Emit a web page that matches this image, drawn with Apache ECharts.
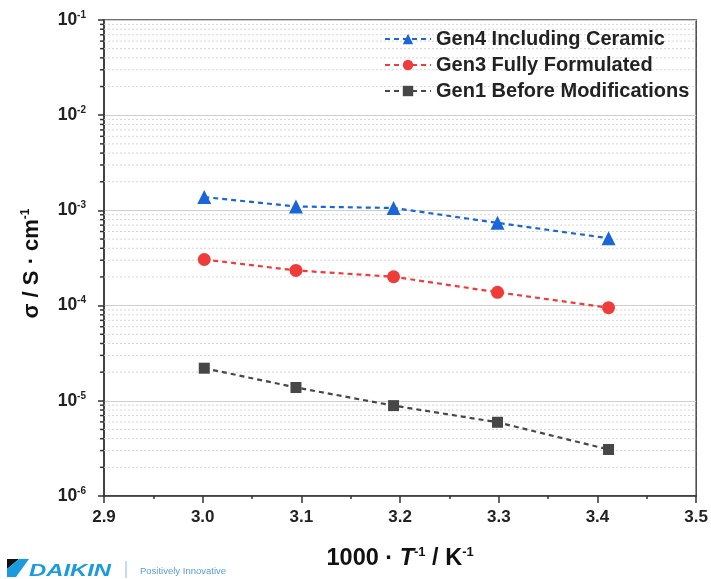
<!DOCTYPE html>
<html><head><meta charset="utf-8">
<script src="https://cdn.jsdelivr.net/npm/echarts@6/dist/echarts.min.js"></script>
<style>html,body{margin:0;padding:0;background:#fff}#c{width:711px;height:579px}</style>
</head><body><div id="c"></div>
<script>
// ---- data ----
const xValues = [3.0016, 3.0945, 3.1934, 3.2987, 3.4112];
const gen4 = [1.38e-3, 1.10e-3, 1.06e-3, 7.4e-4, 5.1e-4];
const gen3 = [3.05e-4, 2.34e-4, 2.01e-4, 1.38e-4, 9.5e-5];
const gen1 = [2.20e-5, 1.38e-5, 8.9e-6, 5.95e-6, 3.08e-6];
const seriesNames = ['Gen4 Including Ceramic', 'Gen3 Fully Formulated', 'Gen1 Before Modifications'];
const xMin = 2.9, xMax = 3.5, xStep = 0.1;
const yMin = 1e-6, yMax = 1e-1;
const minorMantissas = [2, 3, 4, 5, 6, 7, 8, 9];
const minorDecades = [-6, -5, -4, -3, -2];

const FONT = 'Liberation Sans, Arial, Helvetica, sans-serif';
const minorValues = [];
minorDecades.forEach(e => minorMantissas.forEach(m => minorValues.push([xMin, m * Math.pow(10, e)])));
const pair = arr => xValues.map((x, i) => [x, arr[i]]);

const chart = echarts.init(document.getElementById('c'), null, {renderer: 'canvas'});
chart.setOption({
  animation: false,
  backgroundColor: '#fff',
  textStyle: {fontFamily: FONT},
  grid: {left: 104, right: 14, top: 20, bottom: 83, show: true, borderColor: '#444', borderWidth: 1.5, backgroundColor: 'transparent'},
  legend: {
    orient: 'vertical', left: 379, top: 24, itemWidth: 46, itemHeight: 13, itemGap: 6,
    data: seriesNames,
    textStyle: {fontSize: 20, fontWeight: 'bold', color: '#222', fontFamily: FONT}
  },
  xAxis: {
    type: 'value', min: xMin, max: xMax, interval: xStep,
    axisLine: {show: true, lineStyle: {color: '#333', width: 1.5}},
    axisTick: {show: true, length: 7, lineStyle: {color: '#333', width: 1.5}},
    minorTick: {show: true, splitNumber: 2, length: 3, lineStyle: {color: '#333', width: 1.5}},
    splitLine: {show: false},
    axisLabel: {fontSize: 17, fontWeight: 'bold', color: '#222', margin: 13, formatter: v => v.toFixed(1)},
    name: '{t|1000 · }{i|T}{s|-1}{t| / K}{s|-1}',
    nameLocation: 'middle', nameGap: 50,
    nameTextStyle: {
      rich: {
        t: {fontSize: 23.5, fontWeight: 'bold', color: '#111', fontFamily: FONT, lineHeight: 25},
        i: {fontSize: 23.5, fontWeight: 'bold', fontStyle: 'italic', color: '#111', fontFamily: FONT, lineHeight: 25},
        s: {fontSize: 13, fontWeight: 'bold', color: '#111', fontFamily: FONT, verticalAlign: 'top', lineHeight: 25}
      }
    }
  },
  yAxis: {
    type: 'log', logBase: 10, min: yMin, max: yMax,
    axisLine: {show: true, lineStyle: {color: '#333', width: 1.5}},
    axisTick: {show: true, length: 6, lineStyle: {color: '#333', width: 1.5}},
    splitLine: {show: true, lineStyle: {color: '#cfcfcf', width: 1.2}},
    axisLabel: {
      margin: 18,
      formatter: v => '{b|10}{s|' + Math.round(Math.log10(v)) + '}',
      rich: {
        b: {fontSize: 17.5, fontWeight: 'bold', color: '#222', fontFamily: FONT, lineHeight: 20},
        s: {fontSize: 10, fontWeight: 'bold', color: '#222', fontFamily: FONT, verticalAlign: 'top', lineHeight: 20}
      }
    },
    name: '{t|σ / S · cm}{s|-1}',
    nameLocation: 'middle', nameGap: 60,
    nameTextStyle: {
      padding: [0, 11, 0, 0],
      rich: {
        t: {fontSize: 22, fontWeight: 'bold', color: '#111', fontFamily: FONT, lineHeight: 24},
        s: {fontSize: 12, fontWeight: 'bold', color: '#111', fontFamily: FONT, verticalAlign: 'top', lineHeight: 24}
      }
    }
  },
  series: [
    {
      type: 'custom', silent: true, clip: false, z: 1, legendHoverLink: false,
      data: minorValues,
      encode: {x: 0, y: 1},
      renderItem: function (params, api) {
        const v = api.value(1);
        const p0 = api.coord([xMin, v]);
        const p1 = api.coord([xMax, v]);
        return {type: 'group', children: [
          {type: 'line', shape: {x1: p0[0], y1: p0[1], x2: p1[0], y2: p1[1]}, style: {stroke: '#d6d6d6', lineWidth: 1, lineDash: [2, 2]}},
          {type: 'line', shape: {x1: p0[0] - 4, y1: p0[1], x2: p0[0], y2: p0[1]}, style: {stroke: '#333', lineWidth: 1.5}}
        ]};
      }
    },
    {
      name: seriesNames[0], type: 'line', data: pair(gen4), z: 5,
      symbol: 'triangle', symbolSize: 14,
      itemStyle: {color: '#1a66d8'},
      lineStyle: {color: '#1a66d8', width: 2.2, type: [5, 4]}
    },
    {
      name: seriesNames[1], type: 'line', data: pair(gen3), z: 5,
      symbol: 'circle', symbolSize: 13,
      itemStyle: {color: '#f03b3b'},
      lineStyle: {color: '#f03b3b', width: 2.2, type: [5, 4]}
    },
    {
      name: seriesNames[2], type: 'line', data: pair(gen1), z: 5,
      symbol: 'rect', symbolSize: 11,
      itemStyle: {color: '#474747'},
      lineStyle: {color: '#474747', width: 2.2, type: [5, 4]}
    }
  ],
  graphic: [
    {type: 'polygon', shape: {points: [[7, 559], [19, 559], [7, 569]]}, style: {fill: '#111'}},
    {type: 'polygon', shape: {points: [[19, 559], [29, 559], [16, 577], [7, 577], [7, 569]]}, style: {fill: '#1a9be0'}},
    {type: 'text', x: 29, y: 563, scaleX: 1.4, style: {text: 'DAIKIN', fontSize: 17, fontWeight: 'bold', fontStyle: 'italic', fill: '#1a9be0', fontFamily: FONT}},
    {type: 'line', shape: {x1: 126, y1: 561, x2: 126, y2: 578}, style: {stroke: '#8ab8e6', lineWidth: 1}},
    {type: 'text', x: 140, y: 566, style: {text: 'Positively Innovative', fontSize: 9.5, fill: '#5b9bd5', fontFamily: FONT}}
  ]
});
</script></body></html>
